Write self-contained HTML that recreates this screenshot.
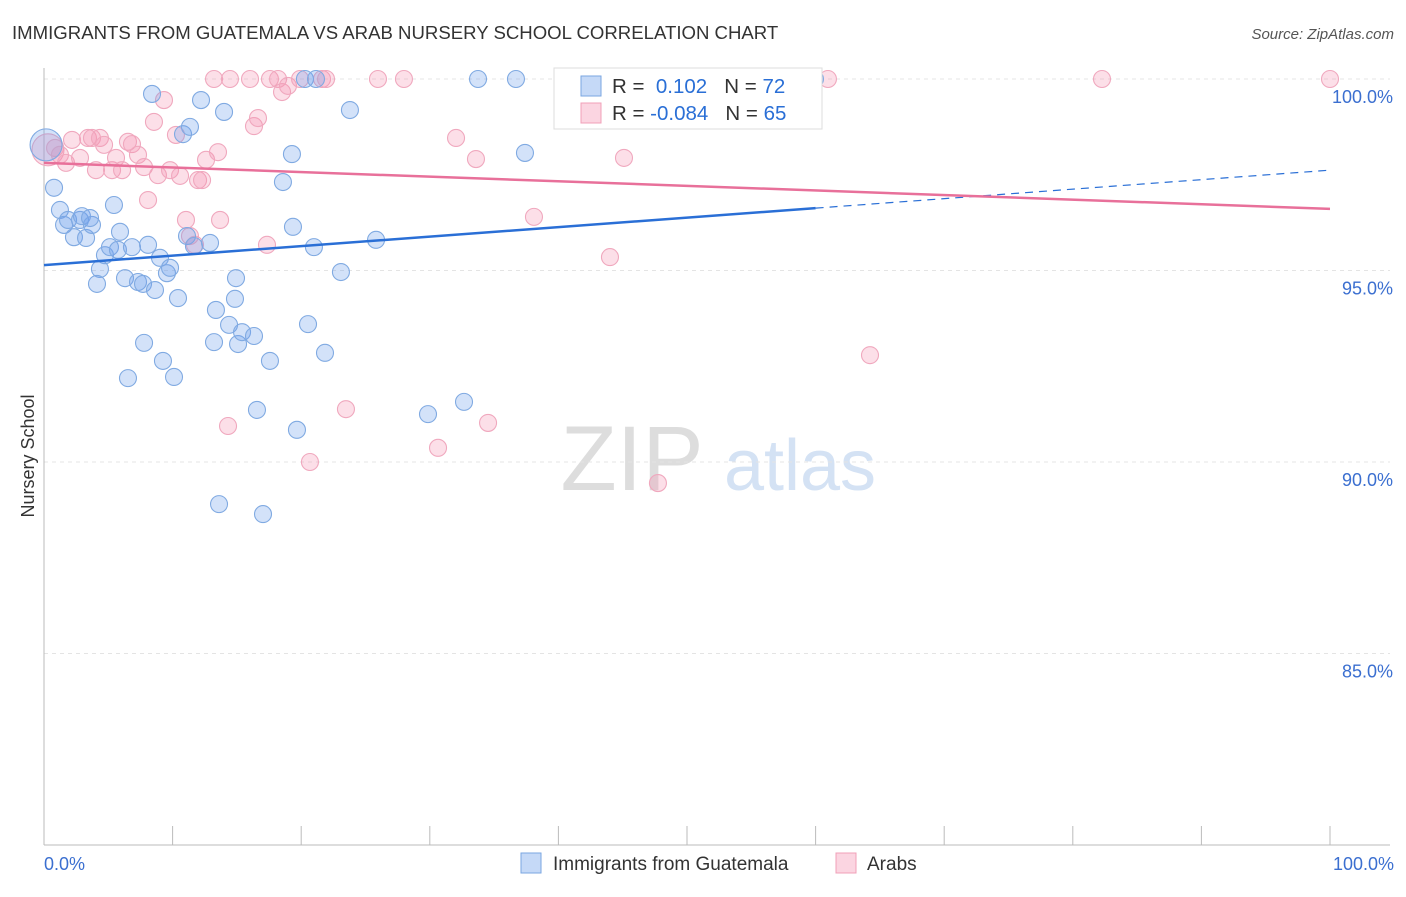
<!DOCTYPE html>
<html><head><meta charset="utf-8"><style>
body{margin:0;background:#fff;font-family:"Liberation Sans",sans-serif;}
svg text{font-family:"Liberation Sans",sans-serif;}
</style></head><body>
<svg id="chart" width="1406" height="892">
<text x="12" y="39" font-size="18.6" fill="#333">IMMIGRANTS FROM GUATEMALA VS ARAB NURSERY SCHOOL CORRELATION CHART</text>
<text x="1394" y="39" font-size="15" fill="#555" font-style="italic" text-anchor="end">Source: ZipAtlas.com</text>
<text x="34" y="456" font-size="18" fill="#333" text-anchor="middle" transform="rotate(-90 34 456)">Nursery School</text>
<g><text x="632" y="490" font-size="92" fill="#ddd" font-family="Liberation Serif" text-anchor="middle">ZIP</text><text x="800" y="490" font-size="72" fill="#d4e2f4" text-anchor="middle">atlas</text></g>
<g id="grid"></g><g id="axes"></g><g id="pts"></g><g id="lines"></g>
<g>
<rect x="554" y="68" width="268" height="61" fill="#fff" stroke="#ddd"/>
<rect x="581" y="76" width="20" height="20" fill="rgba(110,160,235,0.4)" stroke="#7aa6e0"/>
<rect x="581" y="103" width="20" height="20" fill="rgba(245,150,180,0.4)" stroke="#f0a0b8"/>
<text x="612" y="93" font-size="20.5" fill="#333">R = <tspan fill="#2a6fd6">&#160;0.102</tspan>&#160;&#160;&#160;N = <tspan fill="#2a6fd6">72</tspan></text>
<text x="612" y="120" font-size="20.5" fill="#333">R = <tspan fill="#2a6fd6">-0.084</tspan>&#160;&#160;&#160;N = <tspan fill="#2a6fd6">65</tspan></text>
</g>
<g>
<rect x="521" y="853" width="20" height="20" fill="rgba(110,160,235,0.4)" stroke="#7aa6e0"/>
<text x="553" y="870" font-size="19" fill="#333">Immigrants from Guatemala</text>
<rect x="836" y="853" width="20" height="20" fill="rgba(245,150,180,0.4)" stroke="#f0a0b8"/>
<text x="867" y="870" font-size="19" fill="#333">Arabs</text>
</g>
</svg>
<script>
const blueX=[0.16,0.78,1.24,1.56,1.87,2.33,2.80,3.27,2.95,3.73,3.58,4.35,4.12,4.74,5.13,5.44,5.75,5.91,6.30,6.84,7.31,7.70,7.78,6.53,8.09,8.40,8.63,9.02,9.25,9.56,9.80,10.11,10.42,10.81,11.12,11.35,11.66,12.21,12.91,13.37,13.22,13.61,14.00,14.39,14.85,14.93,15.09,15.40,16.33,16.56,17.03,17.57,18.58,19.28,19.36,19.67,20.29,20.53,20.99,21.15,21.85,23.09,23.79,25.82,29.86,32.66,33.75,36.70,37.40,59.95];
const blueY=[98.28,97.16,96.58,96.19,96.32,95.87,96.32,95.85,96.42,96.19,96.37,95.04,94.65,95.40,95.61,96.71,95.54,96.01,94.80,95.61,94.70,94.65,93.11,92.19,95.67,99.61,94.49,95.33,92.64,94.93,95.07,92.22,94.28,98.56,95.90,98.75,95.64,99.45,95.72,93.97,93.13,88.90,99.14,93.58,94.26,94.80,93.08,93.39,93.29,91.36,88.64,92.64,97.31,98.04,96.14,90.84,100,93.60,95.61,100,92.85,94.96,99.19,95.80,91.25,91.57,100,100,98.07,100];
const pinkX=[0.31,0.86,1.24,1.71,2.18,2.80,3.42,3.73,4.04,4.35,4.67,5.29,5.60,6.07,6.53,6.84,7.31,7.78,8.09,8.55,8.86,9.33,9.80,10.26,10.58,11.04,11.35,11.74,11.98,12.29,12.60,13.22,13.53,13.69,14.31,14.46,16.02,16.33,16.64,17.34,17.57,18.20,18.51,18.97,19.91,20.68,21.62,21.93,23.48,25.97,27.99,30.64,32.04,33.59,34.53,38.10,44.01,45.10,47.12,47.74,60.96,64.23,82.27,100];
const pinkY=[98.15,98.20,98.02,97.81,98.41,97.94,98.46,98.46,97.62,98.46,98.28,97.62,97.94,97.62,98.36,98.30,98.02,97.70,96.84,98.88,97.49,99.45,97.62,98.54,97.47,96.32,95.90,95.67,97.36,97.36,97.89,100,98.09,96.32,90.94,100,100,98.77,98.98,95.67,100,100,99.66,99.82,100,90.0,100,100,91.38,100,100,90.37,98.46,97.91,91.02,96.40,95.35,97.94,100,89.45,100,92.79,100,100];
const blueTrend=[95.14,97.62];
const pinkTrend=[97.81,96.61];
const yTicks=[100,95,90,85];
const NS='http://www.w3.org/2000/svg';
const sx=v=>44+v*12.86, sy=v=>79+(100-v)*38.3;
function mk(t,a,p){const e=document.createElementNS(NS,t);for(const k in a)e.setAttribute(k,a[k]);p.appendChild(e);return e;}
const grid=document.getElementById('grid'),axes=document.getElementById('axes');
yTicks.forEach(t=>{const l=mk('line',{x1:44,x2:1390,y1:sy(t),y2:sy(t),stroke:'#e4e4e4','stroke-dasharray':'4,4'},grid);


const tx=mk('text',{x:1393,y:sy(t)+24,'font-size':18,fill:'#3b6fd0','text-anchor':'end'},axes);tx.textContent=t.toFixed(1)+'%';

});
mk('line',{x1:44,x2:44,y1:68,y2:845,stroke:'#bbb'},axes);
mk('line',{x1:44,x2:1390,y1:845,y2:845,stroke:'#bbb'},axes);
for(let i=0;i<=10;i++){mk('line',{x1:sx(i*10),x2:sx(i*10),y1:826,y2:845,stroke:'#bbb'},axes);}
let t0=mk('text',{x:44,y:870,'font-size':18,fill:'#3b6fd0'},axes);t0.textContent='0.0%';


let t1=mk('text',{x:1394,y:870,'font-size':18,fill:'#3b6fd0','text-anchor':'end'},axes);t1.textContent='100.0%';


const pts=document.getElementById('pts');
function draw(X,Y,fill,stroke,name){X.forEach((x,i)=>{const c=mk('circle',{cx:sx(x),cy:sy(Y[i]),r:i===0?16:8.5,fill:fill,stroke:stroke,'stroke-width':1.1},pts);

});}
draw(pinkX,pinkY,'rgba(245,150,180,0.3)','#f0a8be','arab-point');
draw(blueX,blueY,'rgba(110,160,235,0.3)','#80aae2','guatemala-point');
const lines=document.getElementById('lines');
const bAt=x=>blueTrend[0]+(blueTrend[1]-blueTrend[0])*x/100, pAt=x=>pinkTrend[0]+(pinkTrend[1]-pinkTrend[0])*x/100;
let b1=mk('line',{x1:sx(0),y1:sy(bAt(0)),x2:sx(60),y2:sy(bAt(60)),stroke:'#2a6fd6','stroke-width':2.5},lines);


let b2=mk('line',{x1:sx(60),y1:sy(bAt(60)),x2:sx(100),y2:sy(bAt(100)),stroke:'#2a6fd6','stroke-width':1.2,'stroke-dasharray':'8,6'},lines);


let p1=mk('line',{x1:sx(0),y1:sy(pAt(0)),x2:sx(100),y2:sy(pAt(100)),stroke:'#e8709a','stroke-width':2.5},lines);


</script>
</body></html>
